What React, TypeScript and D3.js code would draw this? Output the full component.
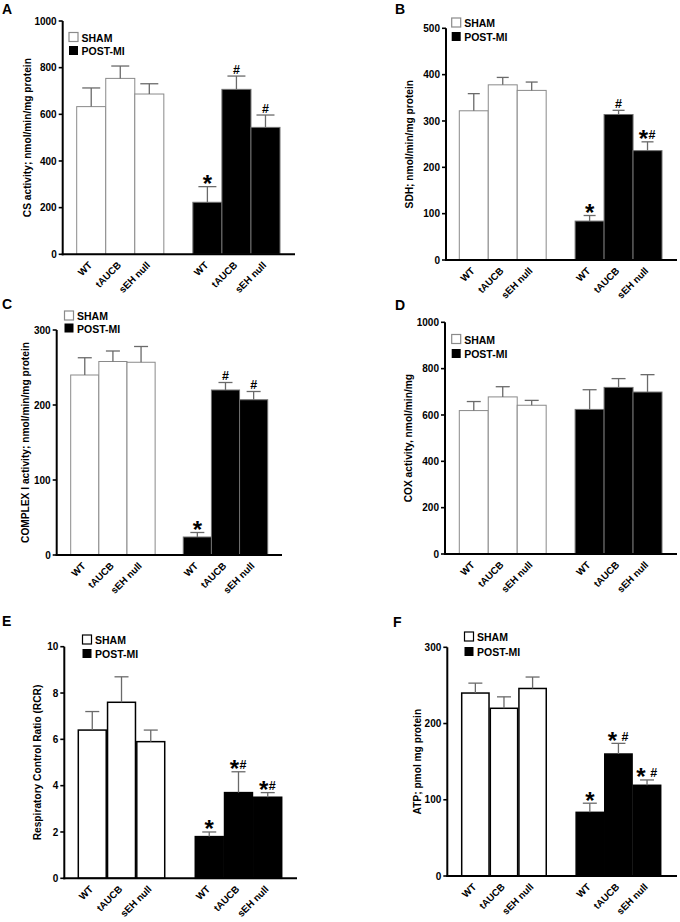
import React from 'react';
import * as d3 from 'd3';

// groups / strains shared by every panel
const groups = ['SHAM', 'POST-MI'];
const strains = ['WT', 'tAUCB', 'sEH null'];
const slots = ['SHAM|WT', 'SHAM|tAUCB', 'SHAM|sEH null', 'gap', 'POST-MI|WT', 'POST-MI|tAUCB', 'POST-MI|sEH null'];

// values (mean, sem), order: SHAM WT, tAUCB, sEH null, POST-MI WT, tAUCB, sEH null
const csMean = [633, 754, 687, 223, 707, 544];
const csSem = [80, 53, 44, 67, 57, 53];
const csMarks = ['', '', '', '*', '#', '#'];

const sdhMean = [322, 378, 366, 84, 314, 236];
const sdhSem = [37, 16, 18, 12, 9, 19];
const sdhMarks = ['', '', '', '*', '#', '*#'];

const c1Mean = [240, 258, 257, 24, 220, 207];
const c1Sem = [23, 14, 21, 6, 10, 11];
const c1Marks = ['', '', '', '*', '#', '#'];

const coxMean = [619, 678, 642, 624, 719, 699];
const coxSem = [39, 44, 21, 85, 38, 75];
const coxMarks = ['', '', '', '', '', ''];

const rcrMean = [6.4, 7.6, 5.9, 1.8, 3.7, 3.5];
const rcrSem = [0.8, 1.1, 0.5, 0.2, 0.9, 0.2];
const rcrMarks = ['', '', '', '*', '*#', '*#'];

const atpMean = [240, 220, 246, 83.5, 160, 119];
const atpSem = [13, 15, 15, 12, 14, 7];
const atpMarks = ['', '', '', '*', '*#', '*#'];

const ticksA = [0, 200, 400, 600, 800, 1000];
const ticksB = [0, 100, 200, 300, 400, 500];
const ticksC = [0, 100, 200, 300];
const ticksD = [0, 200, 400, 600, 800, 1000];
const ticksE = [0, 2, 4, 6, 8, 10];
const ticksF = [0, 100, 200, 300];

const FONT = '"Liberation Sans", Arial, sans-serif';

interface PanelProps {
  letter: string;
  letterX: number;
  letterY: number;
  yLabel: string;
  yLabelX: number;
  means: number[];
  sems: number[];
  marks: string[];
  ticks: number[];
  axisX: number;
  yTop: number;
  yBottom: number;
  xRight: number;
  barStart: number;
  barEnd: number;
  legendX: number;
  legendY1: number;
  legendY2: number;
  boxed?: boolean;
  capW: number;
  markSpread: number;
}

const Panel: React.FC<PanelProps> = (p) => {
  const y = d3.scaleLinear()
    .domain([0, p.ticks[p.ticks.length - 1]])
    .range([p.yBottom, p.yTop]);
  const x = d3.scaleBand<string>()
    .domain(slots)
    .range([p.barStart, p.barEnd])
    .paddingInner(p.boxed ? 0.045 : 0);

  const barStroke = p.boxed ? '#000' : '#8a8a8a';
  const barStrokeW = p.boxed ? 1.5 : 1;
  const errColor = '#6a6a6a';

  const bars = groups.flatMap((g, gi) => strains.map((s, si) => {
    const i = gi * 3 + si;
    return { key: `${g}|${s}`, group: g, strain: s, mean: p.means[i], sem: p.sems[i], mark: p.marks[i] };
  }));

  return (
    <g>
      <text x={p.letterX} y={p.letterY} fontFamily={FONT} fontWeight="bold" fontSize={14}>{p.letter}</text>

      {/* bars */}
      {bars.map(b => {
        const x0 = x(b.key)!;
        const w = x.bandwidth();
        const top = y(b.mean);
        return (
          <rect key={b.key} x={x0} y={top} width={w} height={p.yBottom - top}
            fill={b.group === 'SHAM' ? '#fff' : '#000'}
            stroke={b.group === 'SHAM' ? barStroke : (p.boxed ? '#000' : '#707070')}
            strokeWidth={barStrokeW} />
        );
      })}

      {/* error bars (upper only) */}
      {bars.map(b => {
        const cx = x(b.key)! + x.bandwidth() / 2;
        const top = y(b.mean);
        const et = y(b.mean + b.sem);
        return (
          <g key={'e' + b.key} stroke={errColor} strokeWidth={1.3}>
            <line x1={cx} x2={cx} y1={top} y2={et} />
            <line x1={cx - p.capW / 2} x2={cx + p.capW / 2} y1={et} y2={et} />
          </g>
        );
      })}

      {/* significance marks */}
      {bars.filter(b => b.mark).map(b => {
        const cx = x(b.key)! + x.bandwidth() / 2;
        const et = y(b.mean + b.sem);
        const hasStar = b.mark.includes('*');
        const hasHash = b.mark.includes('#');
        const both = hasStar && hasHash;
        return (
          <g key={'m' + b.key} fontFamily={FONT} fontWeight="bold" textAnchor="middle" fill="#000">
            {hasStar && <text x={both ? cx - p.markSpread : cx} y={et + 5.5} fontSize={24}>*</text>}
            {hasHash && <text x={both ? cx + p.markSpread * 1.1 : cx} y={et - 2.5} fontSize={12.5}>#</text>}
          </g>
        );
      })}

      {/* axes */}
      <line x1={p.axisX} x2={p.axisX} y1={p.yTop} y2={p.yBottom + 1} stroke="#000" strokeWidth={2} />
      <line x1={p.axisX - 1} x2={p.xRight} y1={p.yBottom} y2={p.yBottom} stroke="#000" strokeWidth={2} />
      {p.ticks.map(t => (
        <g key={t}>
          <line x1={p.axisX - 4} x2={p.axisX} y1={y(t)} y2={y(t)} stroke="#000" strokeWidth={1.6} />
          <text x={p.axisX - 6} y={y(t) + 3.6} textAnchor="end" fontFamily={FONT} fontWeight="bold" fontSize={10}>{t}</text>
        </g>
      ))}

      {/* x labels */}
      {bars.map(b => {
        const cx = x(b.key)! + x.bandwidth() / 2 + 1.5;
        const ly = p.yBottom + 11.5;
        return (
          <text key={'l' + b.key} x={cx} y={ly} transform={`rotate(-45 ${cx} ${ly})`} textAnchor="end"
            fontFamily={FONT} fontWeight="bold" fontSize={9.8}>{b.strain}</text>
        );
      })}

      {/* y label */}
      <text transform={`translate(${p.yLabelX},${(p.yTop + p.yBottom) / 2}) rotate(-90)`} textAnchor="middle"
        fontFamily={FONT} fontWeight="bold" fontSize={10.2}>{p.yLabel}</text>

      {/* legend */}
      <rect x={p.legendX} y={p.legendY1} width={9} height={9} fill="#fff" stroke={p.boxed ? '#000' : '#8a8a8a'} strokeWidth={1.2} />
      <text x={p.legendX + 12.5} y={p.legendY1 + 9} fontFamily={FONT} fontWeight="bold" fontSize={10.5}>{groups[0]}</text>
      <rect x={p.legendX} y={p.legendY2} width={9} height={9} fill="#000" />
      <text x={p.legendX + 12.5} y={p.legendY2 + 9} fontFamily={FONT} fontWeight="bold" fontSize={10.5}>{groups[1]}</text>
    </g>
  );
};

export default function App() {
  return (
    <svg width={680} height={922} style={{ position: 'absolute', left: 0, top: 0, background: '#fff' }}>
      <Panel letter="A" letterX={2} letterY={13.5} yLabel="CS activity; nmol/min/mg protein" yLabelX={31}
        means={csMean} sems={csSem} marks={csMarks} ticks={ticksA}
        axisX={62.7} yTop={21} yBottom={254.3} xRight={295} barStart={76.7} barEnd={280}
        legendX={69} legendY1={32.5} legendY2={46} capW={18} markSpread={4} />
      <Panel letter="B" letterX={395} letterY={13.5} yLabel="SDH; nmol/min/mg protein" yLabelX={413}
        means={sdhMean} sems={sdhSem} marks={sdhMarks} ticks={ticksB}
        axisX={446} yTop={28.3} yBottom={260} xRight={677} barStart={459.3} barEnd={662}
        legendX={451.7} legendY1={18} legendY2={32} capW={12} markSpread={4} />
      <Panel letter="C" letterX={2} letterY={309} yLabel="COMPLEX I activity; nmol/min/mg protein" yLabelX={29}
        means={c1Mean} sems={c1Sem} marks={c1Marks} ticks={ticksC}
        axisX={56.7} yTop={330} yBottom={555} xRight={282} barStart={70.7} barEnd={267.7}
        legendX={64.5} legendY1={311} legendY2={323.5} capW={14} markSpread={4} />
      <Panel letter="D" letterX={395} letterY={310} yLabel="COX activity, nmol/min/mg" yLabelX={412}
        means={coxMean} sems={coxSem} marks={coxMarks} ticks={ticksD}
        axisX={445} yTop={322.3} yBottom={554} xRight={677} barStart={459.3} barEnd={662}
        legendX={451.7} legendY1={334.5} legendY2={349} capW={14} markSpread={4} />
      <Panel letter="E" letterX={2} letterY={626} yLabel="Respiratory Control Ratio (RCR)" yLabelX={41}
        means={rcrMean} sems={rcrSem} marks={rcrMarks} ticks={ticksE}
        axisX={64.3} yTop={646.7} yBottom={878.3} xRight={297} barStart={78.3} barEnd={281.7}
        legendX={82.5} legendY1={635} legendY2={649} boxed capW={14} markSpread={4} />
      <Panel letter="F" letterX={393} letterY={627} yLabel="ATP; pmol mg protein" yLabelX={421}
        means={atpMean} sems={atpSem} marks={atpMarks} ticks={ticksF}
        axisX={447.3} yTop={647.3} yBottom={876} xRight={677} barStart={461.7} barEnd={660.7}
        legendX={464.5} legendY1={632} legendY2={647} boxed capW={14} markSpread={6} />
    </svg>
  );
}
